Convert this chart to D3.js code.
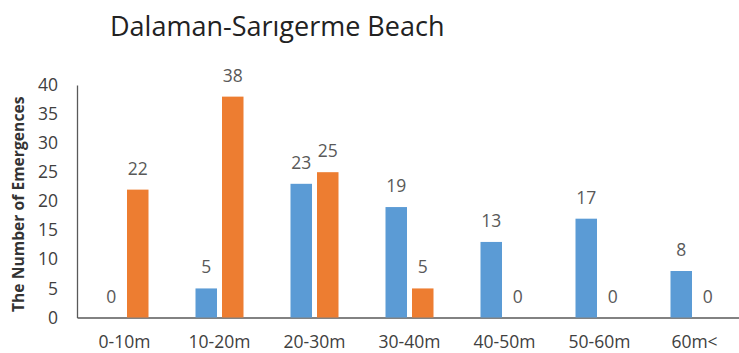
<!DOCTYPE html>
<html><head><meta charset="utf-8">
<script src="https://cdn.jsdelivr.net/npm/d3@7"></script>
<style>body{margin:0;background:#fff}svg{display:block}</style>
</head><body>
<script>
const categories = ["0-10m","10-20m","20-30m","30-40m","40-50m","50-60m","60m<"];
const seriesA = [0,5,23,19,13,17,8];
const seriesB = [22,38,25,5,0,0,0];
const yTicks = [0,5,10,15,20,25,30,35,40];
const title = "Dalaman-Sarıgerme Beach";
const yTitle = "The Number of Emergences";

const W = 739, H = 353;
const font = "'Open Sans', sans-serif";
const svg = d3.select("body").append("svg").attr("width", W).attr("height", H);

const x0 = 77, x1 = 742, yBase = 317.5, yTop = 85;
const x = d3.scaleBand().domain(categories).range([x0, x1]);
const y = d3.scaleLinear().domain([0, 40]).range([yBase, yTop]);
const barW = 21.5, gap = 5;
const fs = 17.5;

const series = [{vals: seriesA, color: "#5B9BD5", off: -gap/2 - barW},
                {vals: seriesB, color: "#ED7D31", off: gap/2}];

svg.append("text").attr("x", 110).attr("y", 36).attr("font-family", font)
  .attr("font-size", 27).attr("fill", "#222").text(title);

// y axis
const yAxis = d3.axisLeft(y).tickValues(yTicks).tickSize(0).tickPadding(19);
const gy = svg.append("g").attr("transform", `translate(${x0},0)`).call(yAxis);
gy.select(".domain").attr("stroke", "#595959").attr("stroke-width", 1.3);
gy.selectAll("text").attr("font-family", font).attr("font-size", fs).attr("fill", "#404040");

// x axis
const xAxis = d3.axisBottom(x).tickSize(0).tickPadding(18);
const gx = svg.append("g").attr("transform", `translate(0,${yBase})`).call(xAxis);
gx.select(".domain").attr("stroke", "#595959").attr("stroke-width", 1.3);
gx.selectAll("text").attr("font-family", font).attr("font-size", fs).attr("fill", "#404040");

series.forEach(s => {
  const g = svg.append("g");
  g.selectAll("rect").data(categories).join("rect")
    .attr("x", (c) => x(c) + x.bandwidth()/2 + s.off)
    .attr("width", barW)
    .attr("y", (c, i) => y(s.vals[i]))
    .attr("height", (c, i) => yBase - y(s.vals[i]))
    .attr("fill", s.color);
  g.selectAll("text").data(categories).join("text")
    .attr("x", (c) => x(c) + x.bandwidth()/2 + s.off + barW/2)
    .attr("y", (c, i) => y(s.vals[i]) - 15)
    .attr("text-anchor", "middle")
    .attr("font-family", font).attr("font-size", fs).attr("fill", "#595959")
    .text((c, i) => s.vals[i]);
});

svg.append("text")
  .attr("transform", `translate(24,${(yBase+yTop)/2 + 3}) rotate(-90)`)
  .attr("text-anchor", "middle").attr("font-family", font)
  .attr("font-size", 15.7).attr("font-weight", "bold").attr("fill", "#333")
  .text(yTitle);
</script>
</body></html>
